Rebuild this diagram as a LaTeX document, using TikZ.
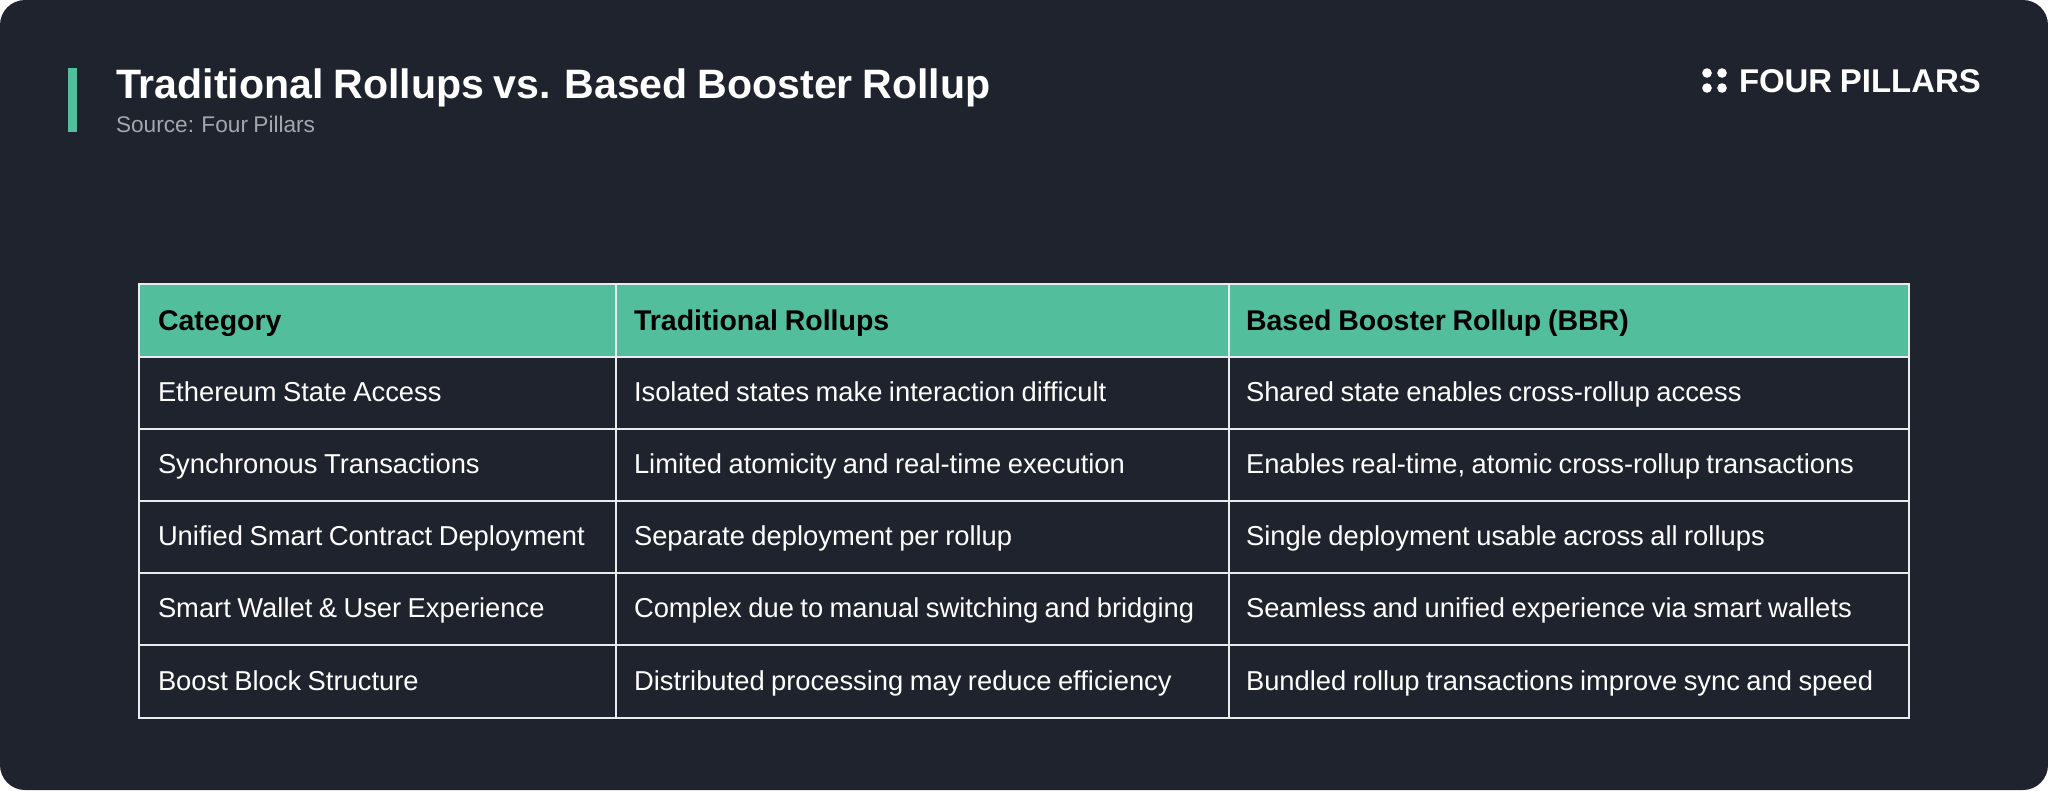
\documentclass[tikz,border=0pt]{standalone}
\usepackage{fontspec}
\setmainfont[WordSpace=0.85]{Liberation Sans}
\definecolor{bgdark}{HTML}{1E232D}
\definecolor{mint}{HTML}{53BE9C}
\definecolor{gridline}{HTML}{E8ECEF}
\definecolor{subgrey}{HTML}{A3A7AD}
\tikzset{
  x=1pt,y=-1pt,
  txt/.style={anchor=base west,inner sep=0pt,outer sep=0pt,text=white,font=\fontsize{27.35}{32}\selectfont},
  head/.style={txt,text=black,font=\fontsize{28.5}{32}\selectfont\bfseries},
  rule/.style={draw=gridline,line width=2.7pt},
  logodot/.style={circle,fill=white,draw=none,minimum size=9.6pt,inner sep=0pt}
}
\begin{document}
\begin{tikzpicture}
\useasboundingbox (0,0) rectangle (2048,790);
\fill[white] (0,0) rectangle (2048,790);
\fill[bgdark,rounded corners=25pt] (0,0) rectangle (2048,790);
\fill[mint] (68,68) rectangle (77,132);
\node[txt,font=\fontsize{41.1}{48}\selectfont\bfseries] (title) at (116,98) {Traditional Rollups vs. Based Booster Rollup};
\node[txt,text=subgrey,font=\fontsize{22.65}{26}\selectfont] (source) at (116,132) {Source: Four Pillars};
\node[logodot] (d1) at (1707,73) {};
\node[logodot] (d2) at (1722,73) {};
\node[logodot] (d3) at (1707,88) {};
\node[logodot] (d4) at (1722,88) {};
\node[txt,font=\fontsize{32.9}{40}\selectfont\bfseries] (logo) at (1739,92) {FOUR PILLARS};
% table
\fill[mint] (139,284) rectangle (1909,357);
\draw[rule] (139,284) rectangle (1909,718);
\foreach \yy in {357,429,501,573,645} \draw[rule] (139,\yy) -- (1909,\yy);
\foreach \xx in {616,1229} \draw[rule] (\xx,284) -- (\xx,718);
\node[head] (h1) at (158,330) {Category};
\node[head] (h2) at (634,330) {Traditional Rollups};
\node[head] (h3) at (1246,330) {Based Booster Rollup (BBR)};
\node[txt] (a1) at (158,401) {Ethereum State Access};
\node[txt] (b1) at (634,401) {Isolated states make interaction difficult};
\node[txt] (c1) at (1246,401) {Shared state enables cross-rollup access};
\node[txt] (a2) at (158,473) {Synchronous Transactions};
\node[txt] (b2) at (634,473) {Limited atomicity and real-time execution};
\node[txt] (c2) at (1246,473) {Enables real-time, atomic cross-rollup transactions};
\node[txt] (a3) at (158,545) {Unified Smart Contract Deployment};
\node[txt] (b3) at (634,545) {Separate deployment per rollup};
\node[txt] (c3) at (1246,545) {Single deployment usable across all rollups};
\node[txt] (a4) at (158,617) {Smart Wallet \& User Experience};
\node[txt] (b4) at (634,617) {Complex due to manual switching and bridging};
\node[txt] (c4) at (1246,617) {Seamless and unified experience via smart wallets};
\node[txt] (a5) at (158,690) {Boost Block Structure};
\node[txt] (b5) at (634,690) {Distributed processing may reduce efficiency};
\node[txt] (c5) at (1246,690) {Bundled rollup transactions improve sync and speed};
\end{tikzpicture}
\end{document}
